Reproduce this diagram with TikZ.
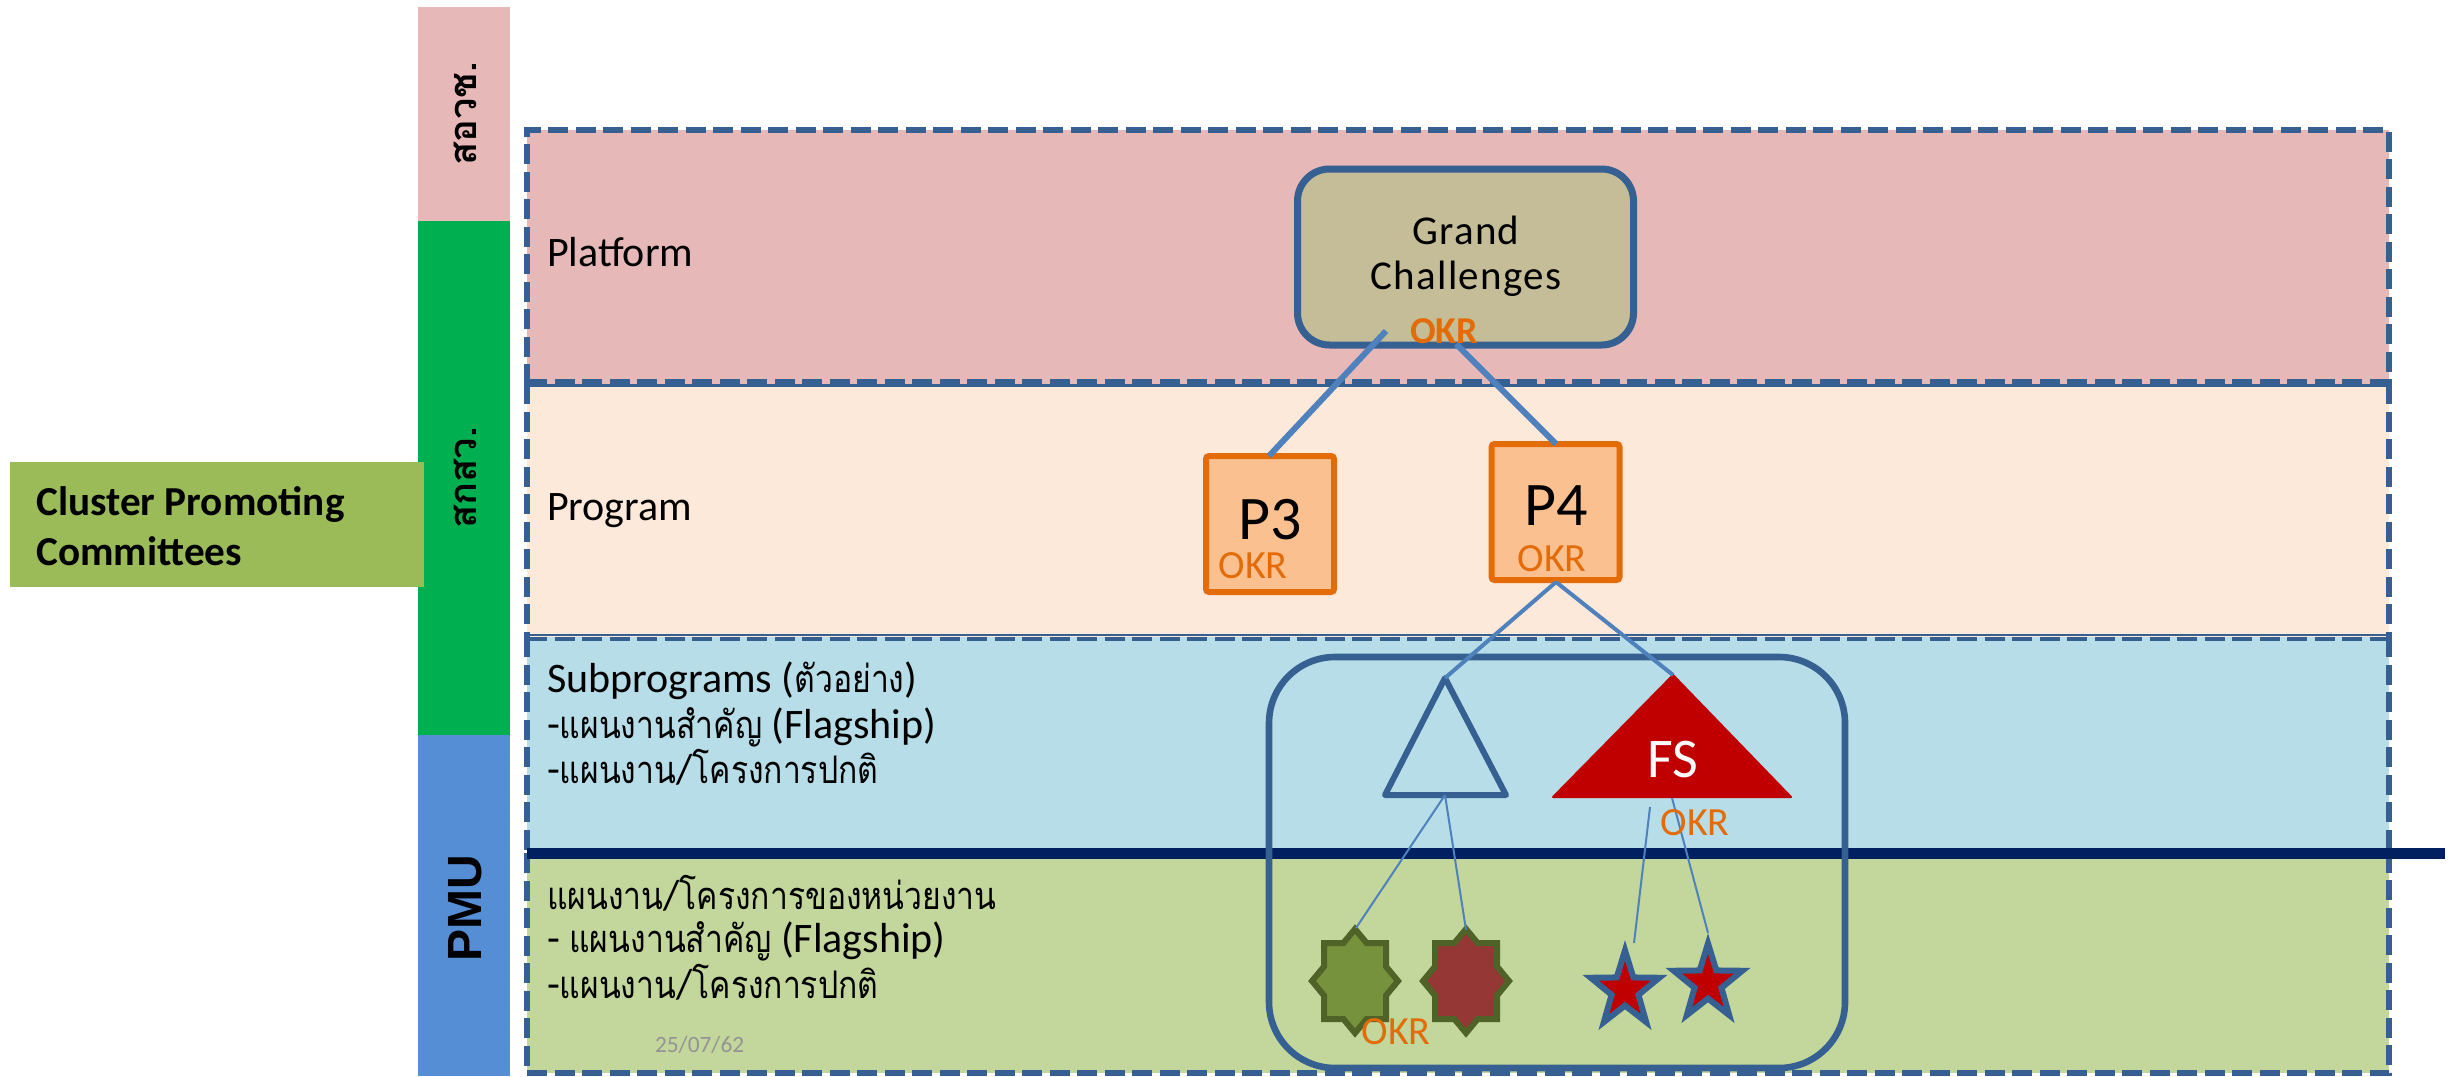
\documentclass[tikz,border=0pt]{standalone}
\usepackage{fontspec}
\usetikzlibrary{shapes.geometric}
\setmainfont{Carlito}
\newfontfamily\thaifont[Script=Thai,FakeStretch=0.84]{Loma}
\newfontfamily\thaibold[Script=Thai,BoldFont={Loma Bold}]{Loma}
\newfontfamily\pmufont{Liberation Sans}
\definecolor{framec}{HTML}{376092}
\definecolor{pinkc}{HTML}{E6B9B8}
\definecolor{peachc}{HTML}{FDE9D9}
\definecolor{bluec}{HTML}{B7DDE8}
\definecolor{greenc}{HTML}{C3D69B}
\definecolor{stripg}{HTML}{00B050}
\definecolor{stripb}{HTML}{558ED5}
\definecolor{clusterc}{HTML}{9BBB59}
\definecolor{darkl}{HTML}{002060}
\definecolor{linkc}{HTML}{4F81BD}
\definecolor{okrc}{HTML}{E36C09}
\definecolor{boxc}{HTML}{FAC090}
\definecolor{grandc}{HTML}{C4BD97}
\definecolor{redc}{HTML}{C00000}
\definecolor{sealb}{HTML}{4F6228}
\definecolor{sealg}{HTML}{76923C}
\definecolor{sealr}{HTML}{953735}
\tikzset{
  band/.style={draw=framec,line width=3.2pt,dash pattern=on 10pt off 3.75pt},
  lab/.style={anchor=base west,inner sep=0pt,outer sep=0pt,font=\fontsize{21}{24}\selectfont,text=black},
  strip/.style={rotate=90,inner sep=0pt,text=black},
  okr/.style={inner sep=0pt,text=okrc,font=\fontsize{20}{24}\selectfont},
  progbox/.style={draw=okrc,fill=boxc,line width=3pt,rounded corners=1.5pt,inner sep=0pt,minimum width=64pt,minimum height=68pt},
  thick link/.style={draw=linkc,line width=3pt},
  mid link/.style={draw=linkc,line width=2pt},
  thin link/.style={draw=linkc,line width=1pt},
  fivestar/.style={star,star points=5,star point ratio=2.55,minimum size=36pt,inner sep=0pt,outer sep=0pt,draw=framec,fill=redc,line width=3pt,transform shape,yscale=1.1},
  sealshape/.style={draw=sealb,line width=3pt,miter limit=10}
}
\newcommand{\sealat}[1]{%
  (#1)++(0,-52) -- ++(11.6,14) -- ++(19.4,0) -- ++(0,23.5) -- ++(12,14.5) -- ++(-12,14.5) -- ++(0,23.5) -- ++(-19.4,0) -- ++(-11.6,14) -- ++(-11.6,-14) -- ++(-19.4,0) -- ++(0,-23.5) -- ++(-12,-14.5) -- ++(12,-14.5) -- ++(0,-23.5) -- ++(19.4,0) -- cycle}
\newcommand{\thai}[1]{{\thaifont\fontsize{19}{22}\selectfont #1}}
\begin{document}
\begin{tikzpicture}[x=0.5pt,y=-0.5pt]
\useasboundingbox (0,0) rectangle (2450,1076);
% side strips
\fill[pinkc] (418,7) rectangle (510,221);
\fill[stripg] (418,221) rectangle (510,735);
\fill[stripb] (418,735) rectangle (510,1076);
\node[strip,font=\thaibold\bfseries\fontsize{19}{22}\selectfont] (sorwor) at (465,114) {สอวช.};
\node[strip,font=\thaibold\bfseries\fontsize{19}{22}\selectfont] (sakaso) at (465,478) {สกสว.};
\node[strip,font=\pmufont\bfseries\fontsize{24}{28}\selectfont] (pmu) at (465,908) {PMU};
% cluster box
\fill[clusterc] (10,462) rectangle (424,587);
\node[anchor=west,inner sep=0pt,font=\bfseries\fontsize{20.6}{25}\selectfont,align=left] (cluster) at (36,526) {Cluster Promoting\\Committees};
% bands
\fill[pinkc] (527,130) rectangle (2389,384);
\fill[peachc] (527,384) rectangle (2389,637);
\fill[bluec] (527,637) rectangle (2389,853);
\fill[greenc] (527,853) rectangle (2389,1073);
\draw[band] (527,384) -- (527,130) -- (2389,130) -- (2389,384);
\draw[band] (527,384) -- (527,637);
\draw[band] (2389,384) -- (2389,637);
\draw[band] (527,637) -- (527,853);
\draw[band] (2389,637) -- (2389,853);
\draw[band] (527,853) -- (527,1073) -- (2389,1073) -- (2389,853);
% shared band edges: a dashed line doubled by a thin solid one
\draw[draw=framec,line width=1.5pt] (524,385.5) -- (2392,385.5);
\draw[band,line width=2.2pt] (527,381.5) -- (2389,381.5);
\draw[draw=framec,line width=1.2pt] (524,635) -- (2392,635);
\draw[band,line width=2.4pt] (527,639) -- (2389,639);
\draw[darkl,line width=5.5pt] (527,853) coordinate (dl) -- (2445,853) coordinate (dr);
% labels
\node[lab] (lplat) at (547,266) {Platform};
\node[lab] (lprog) at (547,520) {Program};
\node[lab] (ls1) at (547,692) {Subprograms (\thai{ตัวอย่าง})};
\node[lab] (ls2) at (547,738) {-\thai{แผนงานสำคัญ} (Flagship)};
\node[lab] (ls3) at (547,783) {-\thai{แผนงาน}/\thai{โครงการปกติ}};
\node[lab] (lu1) at (547,909) {\thai{แผนงาน}/\thai{โครงการของหน่วยงาน}};
\node[lab] (lu2) at (547,952) {- \thai{แผนงานสำคัญ} (Flagship)};
\node[lab] (lu3) at (547,998) {-\thai{แผนงาน}/\thai{โครงการปกติ}};
\node[lab,text=black!42,font=\fontsize{11.7}{14}\selectfont] (date) at (655,1052) {25/07/62};
% cluster frame
\draw[framec,line width=3.3pt,rounded corners=33pt] (1269,657) rectangle (1845,1068);
% anchors
\coordinate (g1) at (1386,331);
\coordinate (g2) at (1456,344);
\coordinate (p3t) at (1269,456);
\coordinate (p4t) at (1556,444);
\coordinate (p4b) at (1556,582);
\coordinate (ta) at (1445,678);
\coordinate (tb) at (1445,795);
\coordinate (fa) at (1673,675);
\coordinate (fb1) at (1650,807);
\coordinate (fb2) at (1672,798);
\coordinate (s1t) at (1356,928);
\coordinate (s2t) at (1466,930);
\coordinate (s3t) at (1634,943);
\coordinate (s4t) at (1708,933);
\coordinate (s1c) at (1355,981);
\coordinate (s2c) at (1466,981);
% grand challenges
\node[draw=framec,fill=grandc,line width=3.5pt,rounded corners=16pt,minimum width=168pt,minimum height=88pt,inner sep=0pt] (grand) at (1465.5,257) {};
\node[inner sep=0pt,align=center,font=\addfontfeature{LetterSpace=3}\fontsize{20.5}{22.5}\selectfont] (grandt) at (1466,256) {Grand\\Challenges};
% programs
\node[progbox] (p3) at (1270,524) {};
\node[progbox] (p4) at (1555.5,512) {};
\node[inner sep=0pt,font=\fontsize{31}{36}\selectfont] (p3t1) at (1270,520) {P3};
\node[inner sep=0pt,font=\fontsize{31}{36}\selectfont] (p4t1) at (1556,506) {P4};
% triangles
\draw[framec,line width=3pt,line join=round] (ta) -- (1506,795) -- (1385,795) -- cycle;
\fill[redc,draw=redc,line width=1pt,line join=round] (fa) -- (1791,797) -- (1553,797) -- cycle;
\node[inner sep=0pt,text=white,font=\fontsize{28}{32}\selectfont] (fs) at (1673,760) {FS};
% seals and stars
\draw[sealshape,fill=sealg] \sealat{s1c};
\draw[sealshape,fill=sealr] \sealat{s2c};
\node[fivestar] (star1) at (1625,990) {};
\node[fivestar] (star2) at (1708,983) {};
% connectors
\draw[thick link] (g1) -- (p3t);
\draw[thick link] (g2) -- (p4t);
\draw[mid link] (p4b) -- (ta);
\draw[mid link] (p4b) -- (fa);
\draw[thin link] (tb) -- (s1t);
\draw[thin link] (tb) -- (s2t);
\draw[thin link] (fb1) -- (s3t);
\draw[thin link] (fb2) -- (s4t);
% OKR labels
\node[okr,font=\bfseries\fontsize{19}{24}\selectfont] (okr0) at (1444,331) {OKR};
\node[okr] (okr3) at (1253,566) {OKR};
\node[okr] (okr4) at (1552,559) {OKR};
\node[okr] (okrf) at (1695,823) {OKR};
\node[okr] (okrs) at (1396,1032) {OKR};
\end{tikzpicture}
\end{document}
